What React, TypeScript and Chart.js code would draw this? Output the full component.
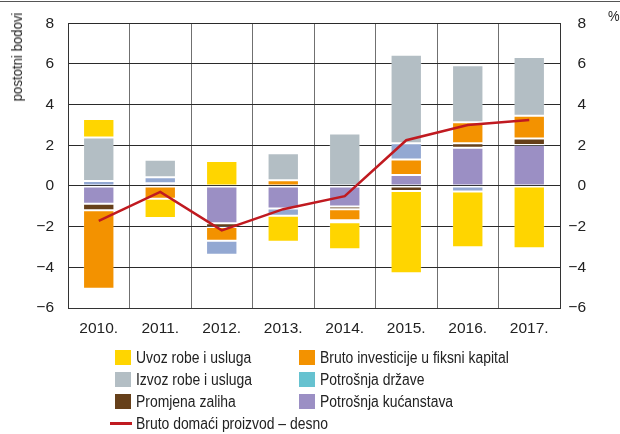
import React, { useEffect, useRef } from 'react';
import { Chart, registerables } from 'chart.js';

Chart.register(...registerables);

const categories = ['2010.', '2011.', '2012.', '2013.', '2014.', '2015.', '2016.', '2017.'];
const household = [-0.87, 0.14, -1.83, -1.11, -1.01, 0.54, 1.88, 2.01];
const inventory = [-0.32, 0, -0.19, 0, -0.13, -0.25, 0.22, 0.33];
const investment = [-3.86, -0.63, -0.67, 0.28, -0.54, 0.76, 1.04, 1.11];
const government = [0.25, 0.29, -0.69, -0.35, -0.1, 0.8, -0.27, 0];
const exportsData = [2.13, 0.86, -0.04, 1.33, 2.58, 4.35, 2.8, 2.89];
const importsData = [0.92, -0.94, 1.23, -1.28, -1.33, -4.04, -2.74, -3.06];
const gdp = [-1.71, -0.29, -2.18, -1.14, -0.5, 2.25, 3.0, 3.25];

const yMin = -6;
const yMax = 8;
const yStep = 2;

const FONT = "'Liberation Sans Narrow', 'Arial Narrow', 'Liberation Sans', Arial, sans-serif";

const C_IMPORTS = '#FFD500';
const C_EXPORTS = '#B3BEC4';
const C_INVENTORY = '#66401A';
const C_INVESTMENT = '#F39200';
const C_GOV_BAR = '#93A8D2';
const C_GOV_LEGEND = '#66C2D0';
const C_HOUSEHOLD = '#9B8FC4';
const C_GDP = '#C01A20';

const legendItems = [
  { label: 'Uvoz robe i usluga', color: C_IMPORTS, col: 0, row: 0 },
  { label: 'Bruto investicije u fiksni kapital', color: C_INVESTMENT, col: 1, row: 0 },
  { label: 'Izvoz robe i usluga', color: C_EXPORTS, col: 0, row: 1 },
  { label: 'Potrošnja države', color: C_GOV_LEGEND, col: 1, row: 1 },
  { label: 'Promjena zaliha', color: C_INVENTORY, col: 0, row: 2 },
  { label: 'Potrošnja kućanstava', color: C_HOUSEHOLD, col: 1, row: 2 },
];

const fmt = (v: number | string) => {
  const n = Number(v);
  return n < 0 ? '\u2212' + Math.abs(n) : String(n);
};

export default function App() {
  const ref = useRef<HTMLCanvasElement>(null);

  useEffect(() => {
    const canvas = ref.current;
    if (!canvas) return;
    const bar = (label: string, data: number[], color: string) => ({
      type: 'bar' as const,
      label,
      data,
      backgroundColor: color,
      borderColor: 'rgba(255,255,255,0.2)',
      borderWidth: 1,
      borderSkipped: false,
      yAxisID: 'y',
      order: 1,
      barPercentage: 0.51,
      categoryPercentage: 1,
    });
    const tickFont = { family: FONT, size: 15.5 };
    const chart = new Chart(canvas, {
      type: 'bar',
      data: {
        labels: categories,
        datasets: [
          {
            type: 'line',
            label: 'Bruto domaći proizvod – desno',
            data: gdp,
            borderColor: C_GDP,
            borderWidth: 2.5,
            pointRadius: 0,
            yAxisID: 'y1',
            order: 0,
            tension: 0,
          } as any,
          bar('Potrošnja kućanstava', household, C_HOUSEHOLD),
          bar('Promjena zaliha', inventory, C_INVENTORY),
          bar('Bruto investicije u fiksni kapital', investment, C_INVESTMENT),
          bar('Potrošnja države', government, C_GOV_BAR),
          bar('Izvoz robe i usluga', exportsData, C_EXPORTS),
          bar('Uvoz robe i usluga', importsData, C_IMPORTS),
        ],
      },
      options: {
        animation: false,
        responsive: false,
        maintainAspectRatio: false,
        layout: { padding: { left: 0, right: 34, top: 16, bottom: 0 } },
        plugins: { legend: { display: false }, tooltip: { enabled: false } },
        scales: {
          x: {
            stacked: true,
            grid: { color: '#707070', lineWidth: 1, drawTicks: false, offset: true },
            border: { color: '#333', width: 1 },
            ticks: { color: '#222', font: tickFont, padding: 11, maxRotation: 0 },
            afterFit: (s: any) => { s.height = 126; },
          },
          y: {
            stacked: true,
            min: yMin,
            max: yMax,
            grid: { color: '#2a2a2a', lineWidth: 1, drawTicks: false },
            border: { color: '#333', width: 1 },
            ticks: { stepSize: yStep, color: '#222', font: tickFont, padding: 14, callback: (v: any) => fmt(v) },
            afterFit: (s: any) => { s.width = 68; },
          },
          y1: {
            position: 'right',
            min: yMin,
            max: yMax,
            grid: { display: false, drawTicks: false },
            border: { color: '#333', width: 1 },
            ticks: { stepSize: yStep, color: '#222', font: tickFont, padding: 9, crossAlign: 'far', callback: (v: any) => fmt(v) },
            afterFit: (s: any) => { s.width = 26; },
          },
        },
      } as any,
    });
    return () => chart.destroy();
  }, []);

  const textStyle: React.CSSProperties = {
    position: 'absolute',
    fontFamily: FONT,
    fontSize: 16,
    color: '#222',
    whiteSpace: 'nowrap',
    lineHeight: '16px',
    transformOrigin: 'left center',
    transform: 'scaleX(0.87)',
  };
  const rowY = [357.5, 379.5, 401.5, 423.5];
  const colX = [115, 299];

  return (
    <div style={{ position: 'fixed', left: 0, top: 0, width: 620, height: 434, background: '#fff', overflow: 'hidden' }}>
      <div style={{ position: 'absolute', left: 0, top: 1, width: 620, height: 1, background: '#555' }} />
      <canvas ref={ref} width={620} height={434} style={{ position: 'absolute', left: 0, top: 0, width: 620, height: 434 }} />
      <div style={{ ...textStyle, fontSize: 15, left: 17, top: 57, transformOrigin: 'center center', transform: 'translate(-50%, -50%) rotate(-90deg) scaleX(0.88)' }}>postotni bodovi</div>
      <div style={{ ...textStyle, fontSize: 15, left: 608, top: 8 }}>%</div>
      {legendItems.map((it) => (
        <React.Fragment key={it.label}>
          <div style={{ position: 'absolute', left: colX[it.col], top: rowY[it.row] - 7.5, width: 16, height: 15, background: it.color }} />
          <div style={{ ...textStyle, left: colX[it.col] + 21, top: rowY[it.row] - 8 }}>{it.label}</div>
        </React.Fragment>
      ))}
      <div style={{ position: 'absolute', left: 110, top: rowY[3] - 1.5, width: 22, height: 3, background: C_GDP }} />
      <div style={{ ...textStyle, left: 136, top: rowY[3] - 8 }}>Bruto domaći proizvod – desno</div>
    </div>
  );
}
